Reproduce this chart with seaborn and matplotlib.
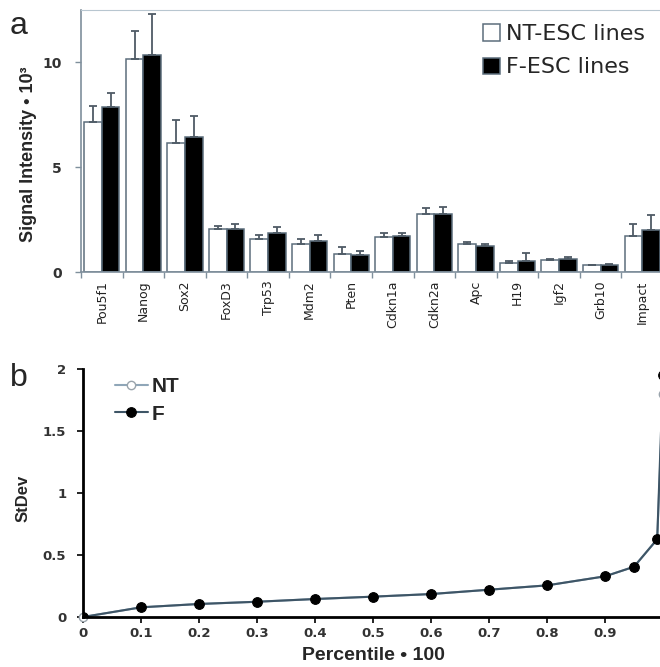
import numpy as np
import pandas as pd
import matplotlib
matplotlib.use('Agg')
import matplotlib.pyplot as plt
import seaborn as sns

# panel a: gene expression, NT vs F ESC lines
genes = ['Pou5f1', 'Nanog', 'Sox2', 'FoxD3', 'Trp53', 'Mdm2', 'Pten',
         'Cdkn1a', 'Cdkn2a', 'Apc', 'H19', 'Igf2', 'Grb10', 'Impact']
nt_mean = [7.14, 10.17, 6.16, 2.07, 1.56, 1.35, 0.86, 1.66, 2.78, 1.32, 0.43, 0.57, 0.32, 1.74]
nt_err = [0.76, 1.33, 1.08, 0.13, 0.22, 0.21, 0.34, 0.19, 0.28, 0.10, 0.10, 0.05, 0.03, 0.54]
f_mean = [7.88, 10.35, 6.44, 2.04, 1.85, 1.47, 0.83, 1.72, 2.78, 1.26, 0.54, 0.62, 0.35, 1.98]
f_err = [0.67, 1.95, 0.98, 0.26, 0.29, 0.28, 0.16, 0.16, 0.32, 0.09, 0.35, 0.10, 0.02, 0.73]

# panel b: StDev by percentile
pct = [0, 0.1, 0.2, 0.3, 0.4, 0.5, 0.6, 0.7, 0.8, 0.9, 0.95, 0.99, 1.0]
sd_nt = [0, 0.078, 0.105, 0.123, 0.145, 0.164, 0.185, 0.22, 0.255, 0.328, 0.405, 0.627, 1.80]
sd_f = [0, 0.078, 0.105, 0.123, 0.145, 0.164, 0.185, 0.22, 0.255, 0.328, 0.405, 0.627, 1.95]

sns.set_style('white')
plt.rcParams['font.family'] = ['Liberation Sans', 'DejaVu Sans']

fig = plt.figure(figsize=(6.6, 6.67), dpi=100)

# ---------- panel a ----------
ax1 = fig.add_axes([81/660, 395/667, 582/660, 262/667])
df = pd.DataFrame({
    'gene': genes * 2,
    'value': nt_mean + f_mean,
    'line': ['NT-ESC lines'] * len(genes) + ['F-ESC lines'] * len(genes),
})
sns.barplot(data=df, x='gene', y='value', hue='line',
            palette={'NT-ESC lines': 'white', 'F-ESC lines': 'black'},
            edgecolor='#5c6e7c', linewidth=1.1, width=0.85, ax=ax1)

for cont, errs in zip(ax1.containers, [nt_err, f_err]):
    xs = [b.get_x() + b.get_width() / 2 for b in cont]
    hs = [b.get_height() for b in cont]
    ax1.errorbar(xs, hs, yerr=[np.zeros(len(errs)), errs], fmt='none',
                 ecolor='#4f5b66', elinewidth=1.3, capsize=3, capthick=1.3)

ax1.set_xlim(-0.46, 13.5)
ax1.set_ylim(0, 12.5)
ax1.set_yticks([0, 5, 10])
ax1.set_yticklabels(['0', '5', '10'], fontfamily='DejaVu Sans',
                    fontweight='bold', fontsize=10, color='#333333')
ax1.set_xticks(range(len(genes)))
ax1.set_xticklabels(genes, rotation=90, fontfamily='DejaVu Sans',
                    fontsize=9, color='#222222')
ax1.tick_params(axis='x', which='major', length=0, pad=6)
ax1.set_xticks(np.arange(-0.5, 13.5, 1), minor=True)
ax1.tick_params(axis='x', which='minor', length=4, width=1, color='#7f8f9c',
                direction='out', bottom=True)
ax1.tick_params(axis='y', length=4, width=1, color='#7f8f9c', left=True,
                direction='out', pad=10)
ax1.set_xlabel('')
ax1.set_ylabel('Signal Intensity • 10³', fontsize=13, fontweight='bold')
ax1.yaxis.set_label_coords(-0.075, 0.45)
for s in ['left', 'bottom']:
    ax1.spines[s].set_color('#7f8f9c')
    ax1.spines[s].set_linewidth(1.2)
ax1.spines['top'].set_color('#b8c6d0')
ax1.spines['right'].set_visible(False)

h, l = ax1.get_legend_handles_labels()
ax1.legend(h, l, loc='upper right', bbox_to_anchor=(0.985, 0.98),
           frameon=False, prop={'family': 'DejaVu Sans', 'size': 16},
           handlelength=0.75, handleheight=0.75, handletextpad=0.3,
           labelspacing=0.6, borderaxespad=0)
fig.text(10/660, 1 - 34/667, 'a', fontsize=23)

# ---------- panel b ----------
ax2 = fig.add_axes([83/660, 50/667, 580/660, 248/667])
sns.lineplot(x=pct, y=sd_nt, ax=ax2, color='#8fa6b8', linewidth=1.5,
             marker='o', markersize=6, markerfacecolor='white',
             markeredgecolor='#9aa4ac', markeredgewidth=1, label='NT',
             clip_on=False)
sns.lineplot(x=pct, y=sd_f, ax=ax2, color='#3e5566', linewidth=1.5,
             marker='o', markersize=7, markerfacecolor='black',
             markeredgecolor='black', label='F')
ax2.set_xlim(0, 1.0)
ax2.set_ylim(0, 2)
ax2.set_xticks([0, 0.1, 0.2, 0.3, 0.4, 0.5, 0.6, 0.7, 0.8, 0.9, 1.0])
ax2.set_xticklabels(['0', '0.1', '0.2', '0.3', '0.4', '0.5', '0.6', '0.7',
                     '0.8', '0.9', '1'], fontfamily='DejaVu Sans',
                    fontweight='bold', fontsize=9.5, color='#333333')
ax2.set_yticks([0, 0.5, 1, 1.5, 2])
ax2.set_yticklabels(['0', '0.5', '1', '1.5', '2'], fontfamily='DejaVu Sans',
                    fontweight='bold', fontsize=9.5, color='#333333')
ax2.tick_params(axis='both', length=4, width=1.2, color='black',
                direction='out', bottom=True, left=True)
ax2.tick_params(axis='y', pad=8)
for s in ['left', 'bottom']:
    ax2.spines[s].set_color('black')
    ax2.spines[s].set_linewidth(2)
ax2.spines['top'].set_visible(False)
ax2.spines['right'].set_visible(False)
ax2.set_xlabel('Percentile • 100', fontsize=14, fontweight='bold', labelpad=5)
ax2.set_ylabel('StDev', fontsize=12, fontweight='bold')
ax2.yaxis.set_label_coords(-0.09, 0.48)
ax2.legend(loc='upper left', bbox_to_anchor=(0.04, 1.0), frameon=False,
           prop={'weight': 'bold', 'size': 15}, handlelength=1.6,
           handletextpad=0.2, labelspacing=0.4, borderaxespad=0)
fig.text(10/660, 1 - 386/667, 'b', fontsize=23)

fig.savefig('out.png', dpi=100)
